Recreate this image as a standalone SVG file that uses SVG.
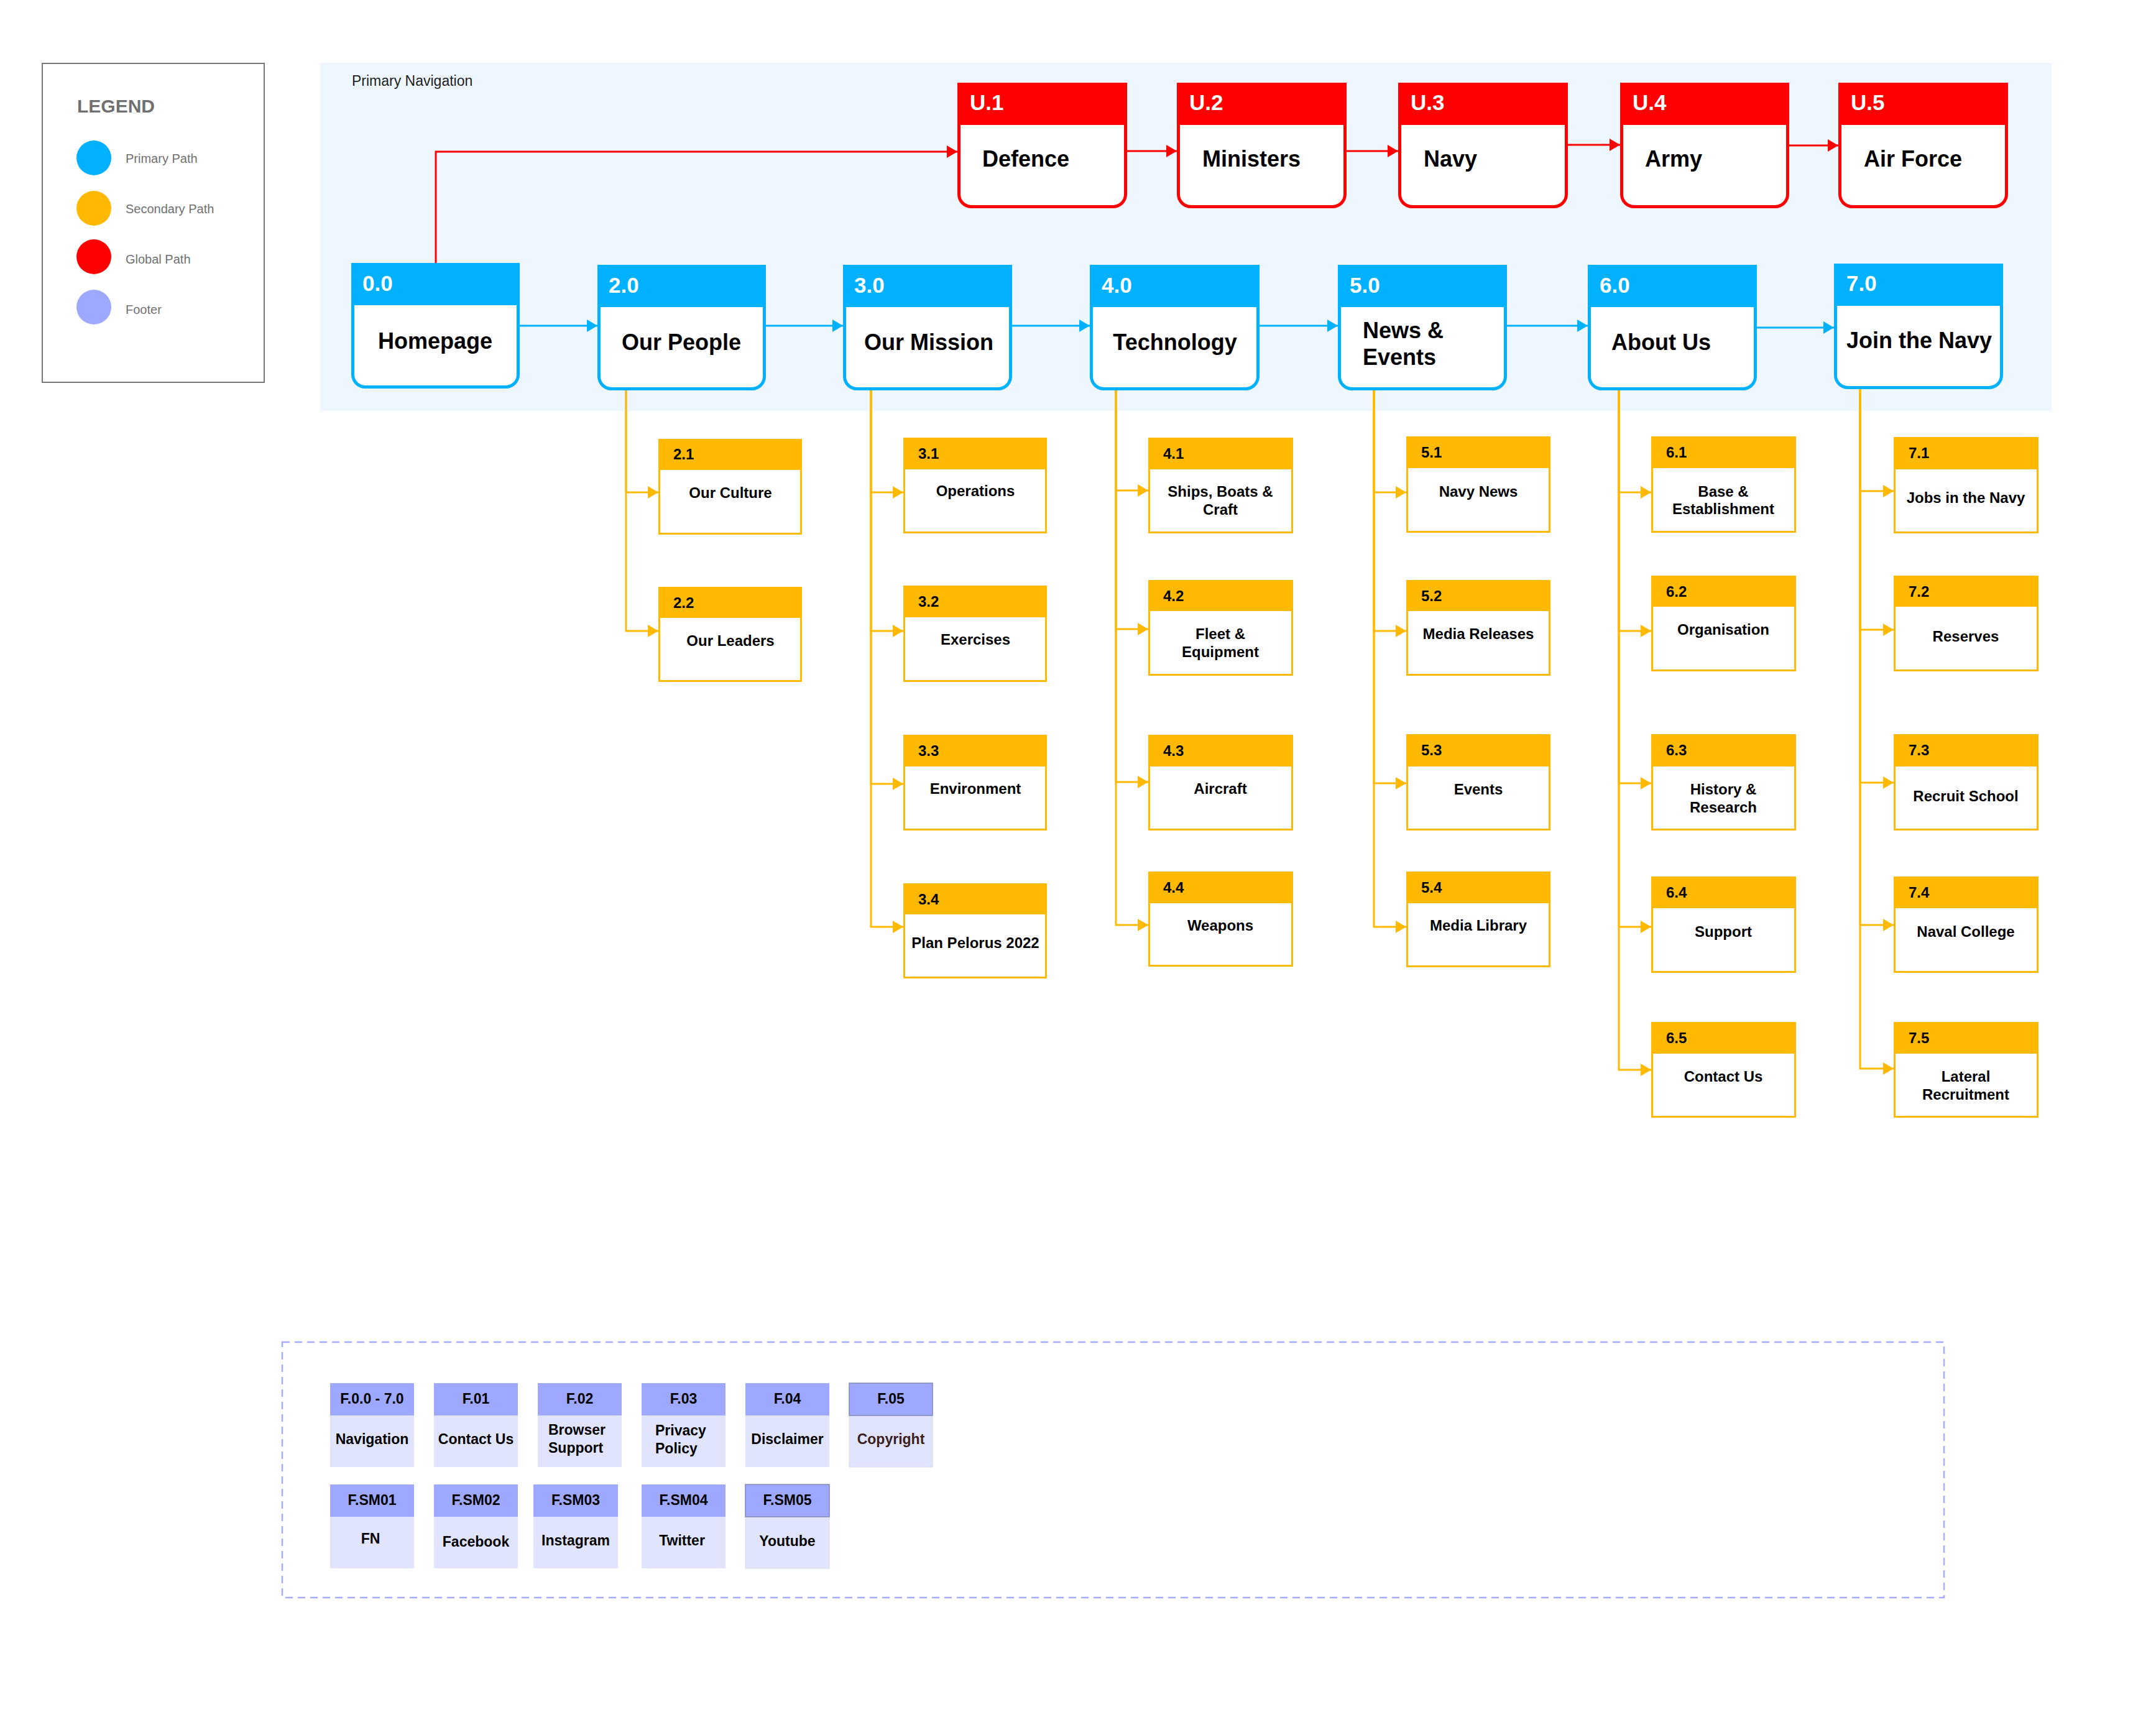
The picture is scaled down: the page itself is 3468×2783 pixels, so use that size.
<svg xmlns="http://www.w3.org/2000/svg" width="3468" height="2783" viewBox="0 0 3468 2783">
  <style>
    text { font-family: "Liberation Sans", Arial, Helvetica, sans-serif; }
    .panel { fill: #EEF6FF; }
    .legend-box { fill: #FFFFFF; stroke: #777777; stroke-width: 2; }
    .legend-title { font-size: 30px; font-weight: bold; fill: #707070; }
    .legend-text { font-size: 20px; fill: #707070; }
    .nav-title { font-size: 23px; fill: #222222; }
    .p-body { fill: #FFFFFF; stroke: #00B1FF; stroke-width: 5; }
    .p-head { fill: #00B1FF; }
    .g-body { fill: #FFFFFF; stroke: #FF0000; stroke-width: 5; }
    .g-head { fill: #FF0000; }
    .big-id { font-size: 35px; font-weight: bold; fill: #FFFFFF; }
    .big-name { font-size: 36px; font-weight: bold; fill: #000000; }
    .s-body { fill: #FFFFFF; stroke: #FFB900; stroke-width: 3; }
    .s-head { fill: #FFB900; }
    .s-id { font-size: 24px; font-weight: bold; fill: #000000; }
    .s-name { font-size: 24px; font-weight: bold; fill: #000000; text-anchor: middle; }
    .f-head { fill: #9EA8FF; }
    .f-body { fill: #E0E4FF; }
    .f-edge { stroke: #8088B8; stroke-width: 1.5; }
    .f-id { font-size: 23px; font-weight: bold; fill: #000000; text-anchor: middle; }
    .f-name { font-size: 23px; font-weight: bold; fill: #000000; text-anchor: middle; }
    .f-name-left { font-size: 23px; font-weight: bold; fill: #000000; text-anchor: start; }
    .f-muted { fill: #3B2020; }
    .footer-frame { fill: none; stroke: #A3ACFF; stroke-width: 2.5; stroke-dasharray: 12 8; }
    .c-primary { fill: none; stroke: #00B1FF; stroke-width: 3; }
    .c-global { fill: none; stroke: #FF0000; stroke-width: 3; }
    .c-secondary { fill: none; stroke: #FFB900; stroke-width: 3; }
  </style>
  <defs>
    <marker id="arrow-blue" markerUnits="userSpaceOnUse" markerWidth="18" markerHeight="20" refX="17" refY="10" orient="auto">
      <path d="M0,0 L17,10 L0,20 Z" fill="#00B1FF"/>
    </marker>
    <marker id="arrow-red" markerUnits="userSpaceOnUse" markerWidth="18" markerHeight="20" refX="17" refY="10" orient="auto">
      <path d="M0,0 L17,10 L0,20 Z" fill="#FF0000"/>
    </marker>
    <marker id="arrow-yellow" markerUnits="userSpaceOnUse" markerWidth="18" markerHeight="20" refX="17" refY="10" orient="auto">
      <path d="M0,0 L17,10 L0,20 Z" fill="#FFB900"/>
    </marker>
  </defs>

  <rect width="3468" height="2783" fill="#FFFFFF"/>

  <!-- Legend -->
  <g id="legend">
    <rect class="legend-box" x="68" y="102" width="357" height="513"/>
    <text class="legend-title" x="124" y="181">LEGEND</text>
    <circle cx="151" cy="254" r="28" fill="#00B1FF"/>
    <text class="legend-text" x="202" y="262">Primary Path</text>
    <circle cx="151" cy="335" r="28" fill="#FFB900"/>
    <text class="legend-text" x="202" y="343">Secondary Path</text>
    <circle cx="151" cy="413" r="28" fill="#FF0000"/>
    <text class="legend-text" x="202" y="424">Global Path</text>
    <circle cx="151" cy="494" r="28" fill="#9EA8FF"/>
    <text class="legend-text" x="202" y="505">Footer</text>
  </g>

  <!-- Primary navigation band -->
  <g id="primary-navigation">
    <rect class="panel" x="515" y="101" width="2785" height="560"/>
    <text class="nav-title" x="566" y="138">Primary Navigation</text>
  </g>

  <!-- Connectors -->
  <g id="connectors">
    <!-- global path -->
    <path class="c-global" d="M701,423 V244 H1540" marker-end="url(#arrow-red)"/>
    <path class="c-global" d="M1813,243 H1893" marker-end="url(#arrow-red)"/>
    <path class="c-global" d="M2166,243 H2249" marker-end="url(#arrow-red)"/>
    <path class="c-global" d="M2522,233 H2606" marker-end="url(#arrow-red)"/>
    <path class="c-global" d="M2878,234 H2957" marker-end="url(#arrow-red)"/>
    <!-- primary path -->
    <path class="c-primary" d="M836,524 H961" marker-end="url(#arrow-blue)"/>
    <path class="c-primary" d="M1232,524 H1356" marker-end="url(#arrow-blue)"/>
    <path class="c-primary" d="M1628,524 H1753" marker-end="url(#arrow-blue)"/>
    <path class="c-primary" d="M2026,524 H2152" marker-end="url(#arrow-blue)"/>
    <path class="c-primary" d="M2424,524 H2554" marker-end="url(#arrow-blue)"/>
    <path class="c-primary" d="M2826,527 H2950" marker-end="url(#arrow-blue)"/>
    <!-- secondary path: 2.0 -->
    <path class="c-secondary" d="M1007,628 V792 H1059" marker-end="url(#arrow-yellow)"/>
    <path class="c-secondary" d="M1007,628 V1015 H1059" marker-end="url(#arrow-yellow)"/>
    <!-- 3.0 -->
    <path class="c-secondary" d="M1401,628 V792 H1453" marker-end="url(#arrow-yellow)"/>
    <path class="c-secondary" d="M1401,628 V1015 H1453" marker-end="url(#arrow-yellow)"/>
    <path class="c-secondary" d="M1401,628 V1261 H1453" marker-end="url(#arrow-yellow)"/>
    <path class="c-secondary" d="M1401,628 V1491 H1453" marker-end="url(#arrow-yellow)"/>
    <!-- 4.0 -->
    <path class="c-secondary" d="M1795,628 V789 H1847" marker-end="url(#arrow-yellow)"/>
    <path class="c-secondary" d="M1795,628 V1012 H1847" marker-end="url(#arrow-yellow)"/>
    <path class="c-secondary" d="M1795,628 V1258 H1847" marker-end="url(#arrow-yellow)"/>
    <path class="c-secondary" d="M1795,628 V1488 H1847" marker-end="url(#arrow-yellow)"/>
    <!-- 5.0 -->
    <path class="c-secondary" d="M2210,628 V792 H2262" marker-end="url(#arrow-yellow)"/>
    <path class="c-secondary" d="M2210,628 V1015 H2262" marker-end="url(#arrow-yellow)"/>
    <path class="c-secondary" d="M2210,628 V1260 H2262" marker-end="url(#arrow-yellow)"/>
    <path class="c-secondary" d="M2210,628 V1491 H2262" marker-end="url(#arrow-yellow)"/>
    <!-- 6.0 -->
    <path class="c-secondary" d="M2604,628 V792 H2656" marker-end="url(#arrow-yellow)"/>
    <path class="c-secondary" d="M2604,628 V1015 H2656" marker-end="url(#arrow-yellow)"/>
    <path class="c-secondary" d="M2604,628 V1260 H2656" marker-end="url(#arrow-yellow)"/>
    <path class="c-secondary" d="M2604,628 V1491 H2656" marker-end="url(#arrow-yellow)"/>
    <path class="c-secondary" d="M2604,628 V1721 H2656" marker-end="url(#arrow-yellow)"/>
    <!-- 7.0 -->
    <path class="c-secondary" d="M2992,626 V790 H3046" marker-end="url(#arrow-yellow)"/>
    <path class="c-secondary" d="M2992,626 V1013 H3046" marker-end="url(#arrow-yellow)"/>
    <path class="c-secondary" d="M2992,626 V1259 H3046" marker-end="url(#arrow-yellow)"/>
    <path class="c-secondary" d="M2992,626 V1488 H3046" marker-end="url(#arrow-yellow)"/>
    <path class="c-secondary" d="M2992,626 V1719 H3046" marker-end="url(#arrow-yellow)"/>
  </g>

  <!-- Global nodes -->
  <g id="node-u1">
    <path class="g-body" d="M1542.5,135.5 H1810.5 V312.5 A20,20 0 0 1 1790.5,332.5 H1562.5 A20,20 0 0 1 1542.5,312.5 Z"/>
    <rect class="g-head" x="1540" y="133" width="273" height="68"/>
    <text class="big-id" x="1560" y="177">U.1</text>
    <text class="big-name" x="1580" y="268">Defence</text>
  </g>
  <g id="node-u2">
    <path class="g-body" d="M1895.5,135.5 H2163.5 V312.5 A20,20 0 0 1 2143.5,332.5 H1915.5 A20,20 0 0 1 1895.5,312.5 Z"/>
    <rect class="g-head" x="1893" y="133" width="273" height="68"/>
    <text class="big-id" x="1913" y="177">U.2</text>
    <text class="big-name" x="1934" y="268">Ministers</text>
  </g>
  <g id="node-u3">
    <path class="g-body" d="M2251.5,135.5 H2519.5 V312.5 A20,20 0 0 1 2499.5,332.5 H2271.5 A20,20 0 0 1 2251.5,312.5 Z"/>
    <rect class="g-head" x="2249" y="133" width="273" height="68"/>
    <text class="big-id" x="2269" y="177">U.3</text>
    <text class="big-name" x="2290" y="268">Navy</text>
  </g>
  <g id="node-u4">
    <path class="g-body" d="M2608.5,135.5 H2875.5 V312.5 A20,20 0 0 1 2855.5,332.5 H2628.5 A20,20 0 0 1 2608.5,312.5 Z"/>
    <rect class="g-head" x="2606" y="133" width="272" height="68"/>
    <text class="big-id" x="2626" y="177">U.4</text>
    <text class="big-name" x="2646" y="268">Army</text>
  </g>
  <g id="node-u5">
    <path class="g-body" d="M2959.5,135.5 H3227.5 V312.5 A20,20 0 0 1 3207.5,332.5 H2979.5 A20,20 0 0 1 2959.5,312.5 Z"/>
    <rect class="g-head" x="2957" y="133" width="273" height="68"/>
    <text class="big-id" x="2977" y="177">U.5</text>
    <text class="big-name" x="2998" y="268">Air Force</text>
  </g>

  <!-- Primary nodes -->
  <g id="node-0-0">
    <path class="p-body" d="M567.5,425.5 H833.5 V602.5 A20,20 0 0 1 813.5,622.5 H587.5 A20,20 0 0 1 567.5,602.5 Z"/>
    <rect class="p-head" x="565" y="423" width="271" height="68"/>
    <text class="big-id" x="583" y="468">0.0</text>
    <text class="big-name" x="700" y="561" text-anchor="middle">Homepage</text>
  </g>
  <g id="node-2-0">
    <path class="p-body" d="M963.5,428.5 H1229.5 V605.5 A20,20 0 0 1 1209.5,625.5 H983.5 A20,20 0 0 1 963.5,605.5 Z"/>
    <rect class="p-head" x="961" y="426" width="271" height="68"/>
    <text class="big-id" x="979" y="471">2.0</text>
    <text class="big-name" x="1096" y="563" text-anchor="middle">Our People</text>
  </g>
  <g id="node-3-0">
    <path class="p-body" d="M1358.5,428.5 H1625.5 V605.5 A20,20 0 0 1 1605.5,625.5 H1378.5 A20,20 0 0 1 1358.5,605.5 Z"/>
    <rect class="p-head" x="1356" y="426" width="272" height="68"/>
    <text class="big-id" x="1374" y="471">3.0</text>
    <text class="big-name" x="1494" y="563" text-anchor="middle">Our Mission</text>
  </g>
  <g id="node-4-0">
    <path class="p-body" d="M1755.5,428.5 H2023.5 V605.5 A20,20 0 0 1 2003.5,625.5 H1775.5 A20,20 0 0 1 1755.5,605.5 Z"/>
    <rect class="p-head" x="1753" y="426" width="273" height="68"/>
    <text class="big-id" x="1772" y="471">4.0</text>
    <text class="big-name" x="1890" y="563" text-anchor="middle">Technology</text>
  </g>
  <g id="node-5-0">
    <path class="p-body" d="M2154.5,428.5 H2421.5 V605.5 A20,20 0 0 1 2401.5,625.5 H2174.5 A20,20 0 0 1 2154.5,605.5 Z"/>
    <rect class="p-head" x="2152" y="426" width="272" height="68"/>
    <text class="big-id" x="2171" y="471">5.0</text>
    <text class="big-name" x="2192" y="544">News &amp;</text>
    <text class="big-name" x="2192" y="587">Events</text>
  </g>
  <g id="node-6-0">
    <path class="p-body" d="M2556.5,428.5 H2823.5 V605.5 A20,20 0 0 1 2803.5,625.5 H2576.5 A20,20 0 0 1 2556.5,605.5 Z"/>
    <rect class="p-head" x="2554" y="426" width="272" height="68"/>
    <text class="big-id" x="2573" y="471">6.0</text>
    <text class="big-name" x="2672" y="563" text-anchor="middle">About Us</text>
  </g>
  <g id="node-7-0">
    <path class="p-body" d="M2952.5,426.5 H3219.5 V603.5 A20,20 0 0 1 3199.5,623.5 H2972.5 A20,20 0 0 1 2952.5,603.5 Z"/>
    <rect class="p-head" x="2950" y="424" width="272" height="68"/>
    <text class="big-id" x="2970" y="468">7.0</text>
    <text class="big-name" x="3087" y="560" text-anchor="middle">Join the Navy</text>
  </g>

  <!-- Secondary nodes: Our People -->
  <g id="node-2-1">
    <rect class="s-body" x="1060.5" y="707.5" width="228" height="151"/>
    <rect class="s-head" x="1059" y="706" width="231" height="50"/>
    <text class="s-id" x="1083" y="739">2.1</text>
    <text class="s-name" x="1175" y="801">Our Culture</text>
  </g>
  <g id="node-2-2">
    <rect class="s-body" x="1060.5" y="945.5" width="228" height="150"/>
    <rect class="s-head" x="1059" y="944" width="231" height="50"/>
    <text class="s-id" x="1083" y="978">2.2</text>
    <text class="s-name" x="1175" y="1039">Our Leaders</text>
  </g>

  <!-- Our Mission -->
  <g id="node-3-1">
    <rect class="s-body" x="1454.5" y="705.5" width="228" height="151"/>
    <rect class="s-head" x="1453" y="704" width="231" height="51"/>
    <text class="s-id" x="1477" y="738">3.1</text>
    <text class="s-name" x="1569" y="798">Operations</text>
  </g>
  <g id="node-3-2">
    <rect class="s-body" x="1454.5" y="943.5" width="228" height="152"/>
    <rect class="s-head" x="1453" y="942" width="231" height="51"/>
    <text class="s-id" x="1477" y="976">3.2</text>
    <text class="s-name" x="1569" y="1037">Exercises</text>
  </g>
  <g id="node-3-3">
    <rect class="s-body" x="1454.5" y="1183.5" width="228" height="151"/>
    <rect class="s-head" x="1453" y="1182" width="231" height="51"/>
    <text class="s-id" x="1477" y="1216">3.3</text>
    <text class="s-name" x="1569" y="1277">Environment</text>
  </g>
  <g id="node-3-4">
    <rect class="s-body" x="1454.5" y="1422.5" width="228" height="150"/>
    <rect class="s-head" x="1453" y="1421" width="231" height="50"/>
    <text class="s-id" x="1477" y="1455">3.4</text>
    <text class="s-name" x="1569" y="1525">Plan Pelorus 2022</text>
  </g>

  <!-- Technology -->
  <g id="node-4-1">
    <rect class="s-body" x="1848.5" y="705.5" width="230" height="151"/>
    <rect class="s-head" x="1847" y="704" width="233" height="51"/>
    <text class="s-id" x="1871" y="738">4.1</text>
    <text class="s-name" x="1963" y="799">Ships, Boats &amp;</text>
    <text class="s-name" x="1963" y="828">Craft</text>
  </g>
  <g id="node-4-2">
    <rect class="s-body" x="1848.5" y="934.5" width="230" height="151"/>
    <rect class="s-head" x="1847" y="933" width="233" height="50"/>
    <text class="s-id" x="1871" y="967">4.2</text>
    <text class="s-name" x="1963" y="1028">Fleet &amp;</text>
    <text class="s-name" x="1963" y="1057">Equipment</text>
  </g>
  <g id="node-4-3">
    <rect class="s-body" x="1848.5" y="1183.5" width="230" height="151"/>
    <rect class="s-head" x="1847" y="1182" width="233" height="51"/>
    <text class="s-id" x="1871" y="1216">4.3</text>
    <text class="s-name" x="1963" y="1277">Aircraft</text>
  </g>
  <g id="node-4-4">
    <rect class="s-body" x="1848.5" y="1403.5" width="230" height="150"/>
    <rect class="s-head" x="1847" y="1402" width="233" height="51"/>
    <text class="s-id" x="1871" y="1436">4.4</text>
    <text class="s-name" x="1963" y="1497">Weapons</text>
  </g>

  <!-- News & Events -->
  <g id="node-5-1">
    <rect class="s-body" x="2263.5" y="703.5" width="229" height="152"/>
    <rect class="s-head" x="2262" y="702" width="232" height="51"/>
    <text class="s-id" x="2286" y="736">5.1</text>
    <text class="s-name" x="2378" y="799">Navy News</text>
  </g>
  <g id="node-5-2">
    <rect class="s-body" x="2263.5" y="934.5" width="229" height="151"/>
    <rect class="s-head" x="2262" y="933" width="232" height="50"/>
    <text class="s-id" x="2286" y="967">5.2</text>
    <text class="s-name" x="2378" y="1028">Media Releases</text>
  </g>
  <g id="node-5-3">
    <rect class="s-body" x="2263.5" y="1182.5" width="229" height="152"/>
    <rect class="s-head" x="2262" y="1181" width="232" height="52"/>
    <text class="s-id" x="2286" y="1215">5.3</text>
    <text class="s-name" x="2378" y="1278">Events</text>
  </g>
  <g id="node-5-4">
    <rect class="s-body" x="2263.5" y="1403.5" width="229" height="151"/>
    <rect class="s-head" x="2262" y="1402" width="232" height="51"/>
    <text class="s-id" x="2286" y="1436">5.4</text>
    <text class="s-name" x="2378" y="1497">Media Library</text>
  </g>

  <!-- About Us -->
  <g id="node-6-1">
    <rect class="s-body" x="2657.5" y="703.5" width="230" height="152"/>
    <rect class="s-head" x="2656" y="702" width="233" height="51"/>
    <text class="s-id" x="2680" y="736">6.1</text>
    <text class="s-name" x="2772" y="799">Base &amp;</text>
    <text class="s-name" x="2772" y="827">Establishment</text>
  </g>
  <g id="node-6-2">
    <rect class="s-body" x="2657.5" y="927.5" width="230" height="151"/>
    <rect class="s-head" x="2656" y="926" width="233" height="50"/>
    <text class="s-id" x="2680" y="960">6.2</text>
    <text class="s-name" x="2772" y="1021">Organisation</text>
  </g>
  <g id="node-6-3">
    <rect class="s-body" x="2657.5" y="1182.5" width="230" height="152"/>
    <rect class="s-head" x="2656" y="1181" width="233" height="52"/>
    <text class="s-id" x="2680" y="1215">6.3</text>
    <text class="s-name" x="2772" y="1278">History &amp;</text>
    <text class="s-name" x="2772" y="1307">Research</text>
  </g>
  <g id="node-6-4">
    <rect class="s-body" x="2657.5" y="1411.5" width="230" height="152"/>
    <rect class="s-head" x="2656" y="1410" width="233" height="51"/>
    <text class="s-id" x="2680" y="1444">6.4</text>
    <text class="s-name" x="2772" y="1507">Support</text>
  </g>
  <g id="node-6-5">
    <rect class="s-body" x="2657.5" y="1645.5" width="230" height="151"/>
    <rect class="s-head" x="2656" y="1644" width="233" height="51"/>
    <text class="s-id" x="2680" y="1678">6.5</text>
    <text class="s-name" x="2772" y="1740">Contact Us</text>
  </g>

  <!-- Join the Navy -->
  <g id="node-7-1">
    <rect class="s-body" x="3047.5" y="704.5" width="230" height="152"/>
    <rect class="s-head" x="3046" y="703" width="233" height="52"/>
    <text class="s-id" x="3070" y="737">7.1</text>
    <text class="s-name" x="3162" y="809">Jobs in the Navy</text>
  </g>
  <g id="node-7-2">
    <rect class="s-body" x="3047.5" y="927.5" width="230" height="151"/>
    <rect class="s-head" x="3046" y="926" width="233" height="50"/>
    <text class="s-id" x="3070" y="960">7.2</text>
    <text class="s-name" x="3162" y="1032">Reserves</text>
  </g>
  <g id="node-7-3">
    <rect class="s-body" x="3047.5" y="1182.5" width="230" height="152"/>
    <rect class="s-head" x="3046" y="1181" width="233" height="52"/>
    <text class="s-id" x="3070" y="1215">7.3</text>
    <text class="s-name" x="3162" y="1289">Recruit School</text>
  </g>
  <g id="node-7-4">
    <rect class="s-body" x="3047.5" y="1411.5" width="230" height="152"/>
    <rect class="s-head" x="3046" y="1410" width="233" height="51"/>
    <text class="s-id" x="3070" y="1444">7.4</text>
    <text class="s-name" x="3162" y="1507">Naval College</text>
  </g>
  <g id="node-7-5">
    <rect class="s-body" x="3047.5" y="1645.5" width="230" height="151"/>
    <rect class="s-head" x="3046" y="1644" width="233" height="51"/>
    <text class="s-id" x="3070" y="1678">7.5</text>
    <text class="s-name" x="3162" y="1740">Lateral</text>
    <text class="s-name" x="3162" y="1769">Recruitment</text>
  </g>

  <!-- Footer -->
  <rect class="footer-frame" x="454" y="2159" width="2673" height="411"/>

  <g id="footer-f00">
    <rect class="f-body" x="531" y="2277" width="135" height="83"/>
    <rect class="f-head" x="531" y="2225" width="135" height="52"/>
    <text class="f-id" x="598.5" y="2258">F.0.0 - 7.0</text>
    <text class="f-name" x="598.5" y="2323">Navigation</text>
  </g>
  <g id="footer-f01">
    <rect class="f-body" x="698" y="2277" width="135" height="83"/>
    <rect class="f-head" x="698" y="2225" width="135" height="52"/>
    <text class="f-id" x="765.5" y="2258">F.01</text>
    <text class="f-name" x="765.5" y="2323">Contact Us</text>
  </g>
  <g id="footer-f02">
    <rect class="f-body" x="865" y="2277" width="135" height="83"/>
    <rect class="f-head" x="865" y="2225" width="135" height="52"/>
    <text class="f-id" x="932.5" y="2258">F.02</text>
    <text class="f-name-left" x="882" y="2308">Browser</text>
    <text class="f-name-left" x="882" y="2337">Support</text>
  </g>
  <g id="footer-f03">
    <rect class="f-body" x="1032" y="2277" width="135" height="83"/>
    <rect class="f-head" x="1032" y="2225" width="135" height="52"/>
    <text class="f-id" x="1099.5" y="2258">F.03</text>
    <text class="f-name-left" x="1054" y="2309">Privacy</text>
    <text class="f-name-left" x="1054" y="2338">Policy</text>
  </g>
  <g id="footer-f04">
    <rect class="f-body" x="1199" y="2277" width="135" height="83"/>
    <rect class="f-head" x="1199" y="2225" width="135" height="52"/>
    <text class="f-id" x="1266.5" y="2258">F.04</text>
    <text class="f-name" x="1266.5" y="2323">Disclaimer</text>
  </g>
  <g id="footer-f05">
    <rect class="f-body" x="1366" y="2277" width="134" height="83" stroke="#D8D8E8" stroke-width="1"/>
    <rect class="f-head f-edge" x="1366" y="2225" width="134" height="52"/>
    <text class="f-id" x="1433" y="2258">F.05</text>
    <text class="f-name f-muted" x="1433" y="2323">Copyright</text>
  </g>

  <g id="footer-sm01">
    <rect class="f-body" x="531" y="2440" width="135" height="83"/>
    <rect class="f-head" x="531" y="2388" width="135" height="52"/>
    <text class="f-id" x="598.5" y="2421">F.SM01</text>
    <text class="f-name" x="596" y="2483">FN</text>
  </g>
  <g id="footer-sm02">
    <rect class="f-body" x="698" y="2440" width="135" height="83"/>
    <rect class="f-head" x="698" y="2388" width="135" height="52"/>
    <text class="f-id" x="765.5" y="2421">F.SM02</text>
    <text class="f-name" x="765.5" y="2488">Facebook</text>
  </g>
  <g id="footer-sm03">
    <rect class="f-body" x="858" y="2440" width="136" height="83"/>
    <rect class="f-head" x="858" y="2388" width="136" height="52"/>
    <text class="f-id" x="926" y="2421">F.SM03</text>
    <text class="f-name" x="926" y="2486">Instagram</text>
  </g>
  <g id="footer-sm04">
    <rect class="f-body" x="1032" y="2440" width="135" height="83"/>
    <rect class="f-head" x="1032" y="2388" width="135" height="52"/>
    <text class="f-id" x="1099.5" y="2421">F.SM04</text>
    <text class="f-name" x="1097" y="2486">Twitter</text>
  </g>
  <g id="footer-sm05">
    <rect class="f-body" x="1199" y="2440" width="135" height="83" stroke="#D8D8E8" stroke-width="1"/>
    <rect class="f-head f-edge" x="1199" y="2388" width="135" height="52"/>
    <text class="f-id" x="1266.5" y="2421">F.SM05</text>
    <text class="f-name" x="1266.5" y="2487">Youtube</text>
  </g>
</svg>
